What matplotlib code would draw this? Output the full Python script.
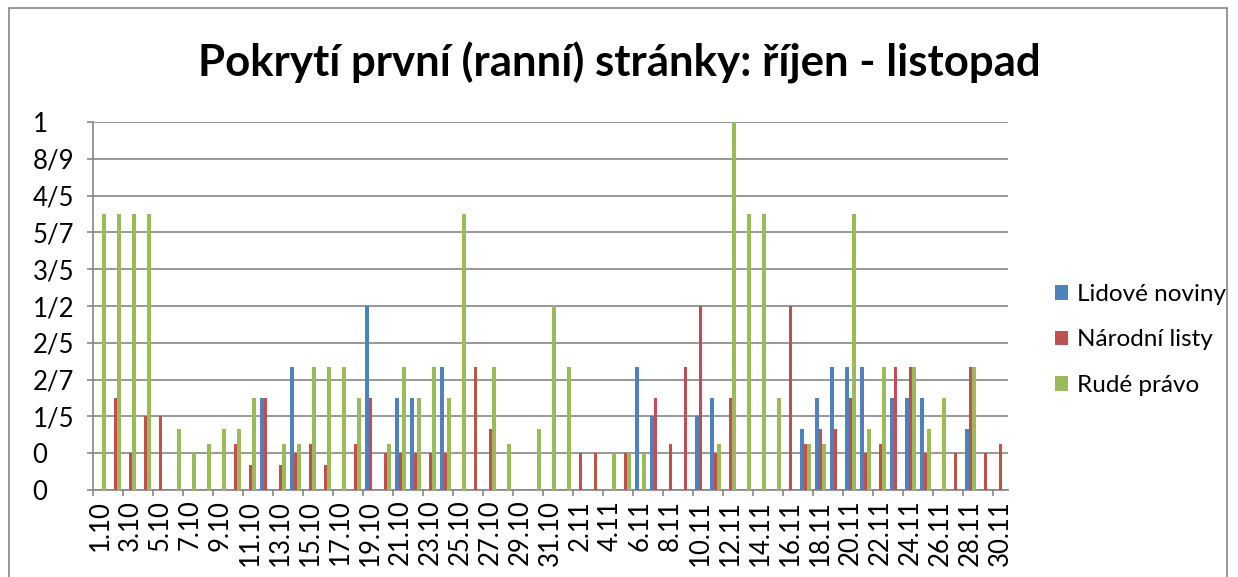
import matplotlib
matplotlib.use('Agg')
import matplotlib.pyplot as plt
from matplotlib.patches import Rectangle
import numpy as np

plt.rcParams['font.family'] = ['Lato', 'DejaVu Sans']

# categories: days of October and November
dates = ["%d.10" % d for d in range(1, 32)] + ["%d.11" % d for d in range(1, 31)]

# share of front page coverage per day
lidove_noviny = [0, 0, 0, 0, 0, 0, 0, 0, 0, 0,
                 0, 0.25, 0, 0.333, 0, 0, 0, 0, 0.5, 0,
                 0.25, 0.25, 0, 0.333, 0, 0, 0, 0, 0, 0,
                 0, 0, 0, 0, 0, 0, 0.333, 0.2, 0, 0,
                 0.2, 0.25, 0, 0, 0, 0, 0, 0.167, 0.25, 0.333,
                 0.333, 0.333, 0, 0.25, 0.25, 0.25, 0, 0, 0.167, 0,
                 0]
narodni_listy = [0, 0.25, 0.1, 0.2, 0.2, 0, 0, 0, 0, 0.125,
                 0.0667, 0.25, 0.0667, 0.1, 0.125, 0.0667, 0, 0.125, 0.25, 0.1,
                 0.1, 0.1, 0.1, 0.1, 0, 0.333, 0.167, 0, 0, 0,
                 0, 0, 0.1, 0.1, 0, 0.1, 0, 0.25, 0.125, 0.333,
                 0.5, 0.1, 0.25, 0, 0, 0, 0.5, 0.125, 0.167, 0.167,
                 0.25, 0.1, 0.125, 0.333, 0.333, 0.1, 0, 0.1, 0.333, 0.1,
                 0.125]
rude_pravo = [0.75, 0.75, 0.75, 0.75, 0, 0.167, 0.1, 0.125, 0.167, 0.167,
              0.25, 0, 0.125, 0.125, 0.333, 0.333, 0.333, 0.25, 0, 0.125,
              0.333, 0.25, 0.333, 0.25, 0.75, 0, 0.333, 0.125, 0, 0.167,
              0.5, 0.333, 0, 0, 0.1, 0.1, 0.1, 0, 0, 0,
              0, 0.125, 1.0, 0.75, 0.75, 0.25, 0, 0.125, 0.125, 0,
              0.75, 0.167, 0.333, 0, 0.333, 0.167, 0.25, 0, 0.333, 0,
              0]

series_names = ["Lidové noviny", "Národní listy", "Rudé právo"]
colors = ["#4F81BD", "#C0504D", "#9BBB59"]

y_ticks = [0, 0.1, 0.2, 0.3, 0.4, 0.5, 0.6, 0.7, 0.8, 0.9, 1.0]
y_labels = ["0", "0", "1/5", "2/7", "2/5", "1/2", "3/5", "5/7", "4/5", "8/9", "1"]

W, H = 1238, 577
fig = plt.figure(figsize=(W / 100, H / 100), dpi=100)
ax = fig.add_axes([93 / W, 1 - 490 / H, (1008 - 93) / W, (490 - 122) / H])

# outer chart border
fig.patches.append(Rectangle((9 / W, -0.1), (1227 - 9) / W, 1 - 8 / H + 0.1,
                             transform=fig.transFigure, fill=False,
                             edgecolor='#868686', linewidth=1.2))

x = np.arange(len(dates))
bw = 0.25
for k, (vals, name, c) in enumerate(zip([lidove_noviny, narodni_listy, rude_pravo],
                                        series_names, colors)):
    ax.bar(x + (k - 1) * bw, vals, width=bw, color=c, label=name, zorder=3)

ax.set_xlim(-0.5, len(dates) - 0.5)
ax.set_ylim(0, 1)

ax.set_yticks(y_ticks)
ax.set_yticklabels(y_labels, fontsize=18.5, ha='left')
ax.tick_params(axis='y', length=4.5, width=1.2, color='#868686', pad=39)

# tick marks on boundaries every 2 days, labels on every 2nd day
ax.set_xticks(np.arange(-0.5, len(dates) - 1, 2))
ax.set_xticklabels([])
ax.tick_params(axis='x', which='major', length=4.5, width=1.2, color='#868686')
ax.set_xticks(x[::2], minor=True)
ax.set_xticklabels(dates[::2], minor=True, rotation=90, fontsize=18.5)
ax.tick_params(axis='x', which='minor', length=0, pad=7)

ax.grid(axis='y', color='#868686', linewidth=1.2, zorder=0)
ax.set_axisbelow(True)
for s in ['top', 'right']:
    ax.spines[s].set_visible(False)
for s in ['left', 'bottom']:
    ax.spines[s].set_color('#868686')
    ax.spines[s].set_linewidth(1.2)

fig.text(0.5, 1 - 63 / H, "Pokrytí první (ranní) stránky: říjen - listopad",
         ha='center', va='center', fontsize=31.5, fontweight='bold')

fig.legend(loc='center left', bbox_to_anchor=(1033 / W, 1 - 340 / H),
           frameon=False, fontsize=17.5, handlelength=0.55, handleheight=0.55,
           handletextpad=0.35, labelspacing=1.0)

fig.savefig("out.png", dpi=100)
